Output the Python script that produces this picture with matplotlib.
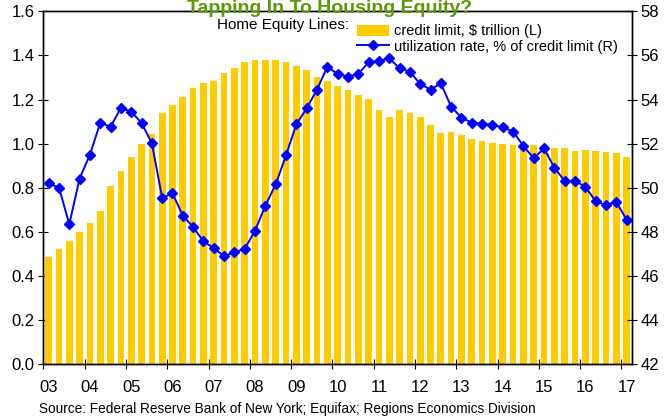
import numpy as np
import matplotlib
matplotlib.use("Agg")
import matplotlib.pyplot as plt

plt.rcParams['font.family'] = ['Liberation Sans', 'DejaVu Sans']

# quarterly, 2003Q1 .. 2017Q1
years = ['03', '04', '05', '06', '07', '08', '09', '10', '11', '12', '13', '14', '15', '16', '17']

credit_limit = [0.485, 0.521, 0.560, 0.601, 0.639, 0.696, 0.810, 0.876,
                0.941, 1.000, 1.042, 1.141, 1.174, 1.213, 1.252, 1.274,
                1.284, 1.322, 1.345, 1.372, 1.381, 1.381, 1.381, 1.372,
                1.352, 1.334, 1.302, 1.284, 1.262, 1.243, 1.221, 1.203,
                1.151, 1.123, 1.154, 1.138, 1.121, 1.085, 1.048, 1.052,
                1.039, 1.023, 1.012, 1.003, 0.999, 0.994, 0.993, 0.993,
                0.990, 0.982, 0.982, 0.967, 0.971, 0.967, 0.962, 0.958,
                0.940]

util_rate = [50.20, 50.01, 48.35, 50.42, 51.50, 52.95, 52.77, 53.62,
             53.45, 52.94, 52.02, 49.54, 49.75, 48.74, 48.22, 47.57,
             47.27, 46.90, 47.08, 47.23, 48.06, 49.19, 50.16, 51.47,
             52.88, 53.60, 54.45, 55.49, 55.16, 55.04, 55.16, 55.69,
             55.75, 55.87, 55.42, 55.26, 54.71, 54.45, 54.74, 53.68,
             53.18, 52.95, 52.91, 52.85, 52.74, 52.55, 51.90, 51.34,
             51.79, 50.91, 50.31, 50.31, 50.05, 49.39, 49.22, 49.36,
             48.56]

x = np.arange(len(credit_limit))

fig = plt.figure(figsize=(6.65, 4.16), dpi=100)
ax = fig.add_axes([0.0654, 0.1243, 0.8846, 0.8485])

bars = ax.bar(x, credit_limit, width=0.65, color='#FFCC00', zorder=2,
              label='credit limit, $ trillion (L)')
ax.set_xlim(-0.5, len(x) - 0.5)
ax.set_ylim(0, 1.6)
ax.set_yticks(np.arange(0, 1.61, 0.2))
ax.set_yticklabels(['%.1f' % v for v in np.arange(0, 1.61, 0.2)])

# year boundaries get tick marks, labels sit under each Q1 bar
ax.set_xticks(np.arange(0, len(x), 4) - 0.5)
ax.set_xticklabels([])
ax.set_xticks(np.arange(0, len(x), 4), minor=True)
ax.set_xticklabels(years, minor=True)
ax.tick_params(axis='x', which='minor', length=0, pad=11, labelsize=12)
ax.tick_params(axis='x', which='major', direction='inout', length=7)
ax.tick_params(axis='y', direction='inout', length=7, labelsize=12, pad=3)

ax2 = ax.twinx()
line, = ax2.plot(x, util_rate, color='#0000FF', marker='D', markersize=5.5,
                 linewidth=1.4, label='utilization rate, % of credit limit (R)')
ax2.set_ylim(42, 58)
ax2.set_yticks(np.arange(42, 59, 2))
ax2.tick_params(axis='y', direction='inout', length=7, labelsize=12, pad=3)

for a in (ax, ax2):
    for s in a.spines.values():
        s.set_linewidth(1.0)

fig.text(0.495, 0.999, 'Tapping In To Housing Equity?', color='#5A9A08',
         fontsize=14, fontweight='bold', ha='center', va='top')
fig.text(0.326, 0.941, 'Home Equity Lines:', fontsize=11, ha='left', va='center')
fig.legend([bars, line], [bars.get_label(), line.get_label()],
           loc='upper left', bbox_to_anchor=(0.522, 0.966), frameon=False,
           fontsize=10.5, handlelength=2.2, handleheight=0.8, handletextpad=0.3,
           labelspacing=0.1, borderpad=0.2)
fig.text(0.059, 0.018, 'Source: Federal Reserve Bank of New York; Equifax; Regions Economics Division',
         fontsize=9.8, ha='left', va='center')

plt.savefig('out.png', dpi=100)
